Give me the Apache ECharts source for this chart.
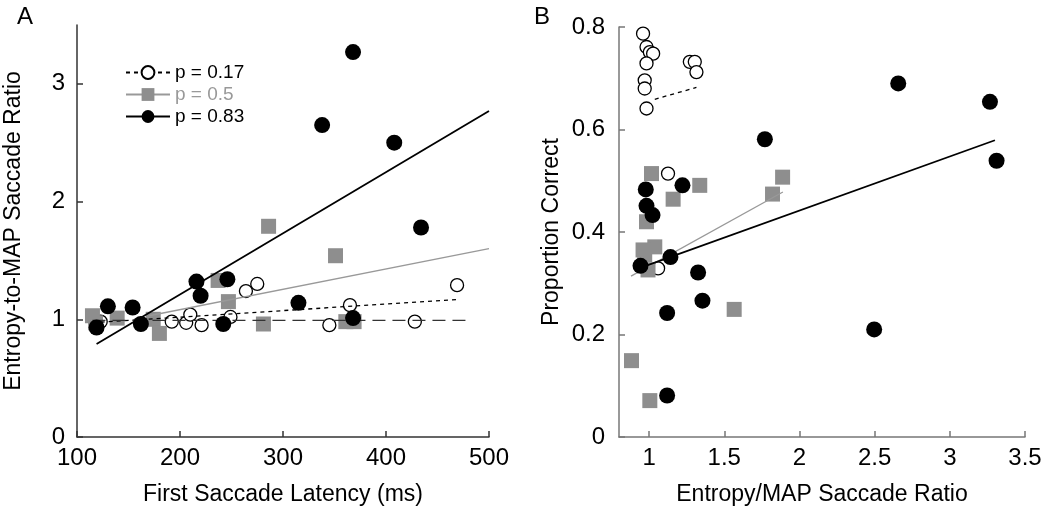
<!DOCTYPE html>
<html>
<head>
<meta charset="utf-8">
<script src="https://cdn.jsdelivr.net/npm/echarts@6/dist/echarts.min.js"></script>
<style>
html,body{margin:0;padding:0;background:#fff;}
#chart{width:1050px;height:513px;}
</style>
</head>
<body>
<div id="chart"></div>
<script>
// ---------- Panel A: First saccade latency (ms) vs Entropy-to-MAP saccade ratio ----------
const aOpen017 = [[123,0.98],[192,0.98],[206,0.97],[210,1.04],[221,0.95],[249,1.02],[264,1.24],[275,1.30],[345,0.95],[365,1.12],[428,0.98],[469,1.29]];
const aSquare05 = [[115,1.03],[118,0.97],[139,1.01],[174,1.00],[180,0.88],[237,1.33],[247,1.15],[281,0.96],[286,1.79],[351,1.54],[361,0.98],[369,0.98]];
const aFilled083 = [[119,0.93],[130,1.11],[154,1.10],[162,0.96],[216,1.32],[220,1.20],[246,1.34],[242,0.96],[315,1.14],[338,2.65],[368,3.27],[368,1.01],[408,2.50],[434,1.78]];
const aFit017 = [[123,0.975],[469,1.168]];
const aFit05 = [[170,1.03],[500,1.60]];
const aFit083 = [[119,0.79],[500,2.77]];
const aRefLine = [[115,0.99],[483,0.99]];
const aXTicks = [100,200,300,400,500];
const aYTicks = [0,1,2,3];

// ---------- Panel B: Entropy/MAP saccade ratio vs proportion correct ----------
const bOpen017 = [[0.960,0.787],[0.983,0.761],[1.005,0.751],[1.027,0.748],[0.983,0.729],[0.971,0.696],[0.971,0.680],[0.983,0.641],[1.271,0.732],[1.304,0.732],[1.315,0.712],[1.126,0.514],[1.060,0.329]];
const bSquare05 = [[0.883,0.149],[1.005,0.071],[1.016,0.514],[0.983,0.420],[1.038,0.371],[0.971,0.355],[0.993,0.326],[0.960,0.365],[1.160,0.464],[1.337,0.491],[1.566,0.249],[1.821,0.474],[1.888,0.507]];
const bFilled083 = [[0.943,0.334],[0.978,0.483],[0.983,0.451],[1.023,0.433],[1.142,0.351],[1.222,0.491],[1.120,0.242],[1.120,0.081],[1.326,0.321],[1.355,0.266],[1.770,0.581],[2.497,0.210],[2.657,0.690],[3.267,0.654],[3.311,0.539]];
const bFit017 = [[1.038,0.659],[1.315,0.682]];
const bFit05 = [[0.88,0.314],[1.89,0.478]];
const bFit083 = [[0.95,0.331],[3.30,0.579]];
const bXTicks = [1,1.5,2,2.5,3,3.5];
const bYTicks = [0,0.2,0.4,0.6,0.8];

const legendNames = ['p = 0.17','p = 0.5','p = 0.83'];

const FONT = "'Liberation Sans', Arial, Helvetica, sans-serif";
const GRAY = '#8e8e8e';

function axisBase(color){
  return {
    axisLine:{show:true,onZero:false,lineStyle:{color:color,width:1.5}},
    axisTick:{show:true,inside:true,length:6,lineStyle:{color:color,width:1.5}},
    splitLine:{show:false},
    axisLabel:{color:'#000',fontSize:24,fontFamily:FONT},
    nameTextStyle:{color:'#000',fontSize:23,fontFamily:FONT},
    nameLocation:'middle'
  };
}

const chart = echarts.init(document.getElementById('chart'), null, {renderer:'canvas'});

const openStyle = {color:'#fff',borderColor:'#000',borderWidth:1.3,opacity:1};
const squareStyle = {color:GRAY,opacity:1};
const filledStyle = {color:'#000',opacity:1};

const option = {
  animation:false,
  backgroundColor:'#fff',
  textStyle:{fontFamily:FONT},
  title:[
    {text:'A',left:12,top:0,textStyle:{fontSize:24,fontWeight:'normal',color:'#000',fontFamily:FONT}},
    {text:'B',left:529,top:0,textStyle:{fontSize:24,fontWeight:'normal',color:'#000',fontFamily:FONT}}
  ],
  legend:{
    orient:'vertical',left:120,top:58,
    itemWidth:44,itemHeight:16,itemGap:3,
    textStyle:{fontSize:19,fontFamily:FONT,color:'#000'},
    selectedMode:false,
    data:[
      {name:legendNames[0],textStyle:{color:'#000'}},
      {name:legendNames[1],textStyle:{color:'#999'}},
      {name:legendNames[2],textStyle:{color:'#000'}}
    ]
  },
  grid:[
    {left:77,right:561,top:25,bottom:76},
    {left:619,right:25,top:27,bottom:76}
  ],
  xAxis:[
    Object.assign(axisBase('#333'),{
      gridIndex:0,type:'value',min:100,max:500,interval:100,
      name:'First Saccade Latency (ms)',nameGap:46,
      axisLabel:{color:'#000',fontSize:24,fontFamily:FONT,margin:9,customValues:aXTicks},
      axisTick:{show:true,inside:true,length:6,lineStyle:{color:'#333',width:1.5},customValues:aXTicks}
    }),
    Object.assign(axisBase('#777'),{
      gridIndex:1,type:'value',min:0.8,max:3.5,
      name:'Entropy/MAP Saccade Ratio',nameGap:46,
      axisLabel:{color:'#000',fontSize:24,fontFamily:FONT,margin:9,customValues:bXTicks},
      axisTick:{show:true,inside:true,length:6,lineStyle:{color:'#777',width:1.5},customValues:bXTicks}
    })
  ],
  yAxis:[
    Object.assign(axisBase('#333'),{
      gridIndex:0,type:'value',min:0,max:3.5,
      name:'Entropy-to-MAP Saccade Ratio',nameGap:52,
      axisLabel:{color:'#000',fontSize:24,fontFamily:FONT,margin:12,customValues:aYTicks},
      axisTick:{show:true,inside:true,length:6,lineStyle:{color:'#333',width:1.5},customValues:aYTicks}
    }),
    Object.assign(axisBase('#777'),{
      gridIndex:1,type:'value',min:0,max:0.8,
      name:'Proportion Correct',nameGap:56,
      axisLabel:{color:'#000',fontSize:24,fontFamily:FONT,margin:14,customValues:bYTicks},
      axisTick:{show:true,inside:true,length:6,lineStyle:{color:'#777',width:1.5},customValues:bYTicks}
    })
  ],
  series:[
    // legend-bearing fit lines, panel A
    {name:legendNames[0],type:'line',xAxisIndex:0,yAxisIndex:0,data:aFit017,showSymbol:false,symbol:'circle',symbolSize:13,
      itemStyle:openStyle,lineStyle:{color:'#000',width:1.3,type:[4,4]},z:3},
    {name:legendNames[1],type:'line',xAxisIndex:0,yAxisIndex:0,data:aFit05,showSymbol:false,symbol:'rect',symbolSize:15,
      itemStyle:squareStyle,lineStyle:{color:'#999',width:1.3},z:3},
    {name:legendNames[2],type:'line',xAxisIndex:0,yAxisIndex:0,data:aFit083,showSymbol:false,symbol:'circle',symbolSize:15,
      itemStyle:filledStyle,lineStyle:{color:'#000',width:1.8},z:3},
    {name:'ref',type:'line',xAxisIndex:0,yAxisIndex:0,data:aRefLine,showSymbol:false,symbol:'none',
      lineStyle:{color:'#333',width:1.3,type:[13,7]},z:3},
    // panel A points
    {name:'A open',type:'scatter',xAxisIndex:0,yAxisIndex:0,data:aOpen017,symbol:'circle',symbolSize:13,itemStyle:openStyle,z:2},
    {name:'A square',type:'scatter',xAxisIndex:0,yAxisIndex:0,data:aSquare05,symbol:'rect',symbolSize:15,itemStyle:squareStyle,z:2},
    {name:'A filled',type:'scatter',xAxisIndex:0,yAxisIndex:0,data:aFilled083,symbol:'circle',symbolSize:16,itemStyle:filledStyle,z:4},
    // panel B points
    {name:'B open',type:'scatter',xAxisIndex:1,yAxisIndex:1,data:bOpen017,symbol:'circle',symbolSize:13,itemStyle:openStyle,z:2},
    {name:'B square',type:'scatter',xAxisIndex:1,yAxisIndex:1,data:bSquare05,symbol:'rect',symbolSize:15,itemStyle:squareStyle,z:2},
    {name:'B filled',type:'scatter',xAxisIndex:1,yAxisIndex:1,data:bFilled083,symbol:'circle',symbolSize:16,itemStyle:filledStyle,z:4},
    // panel B fit lines
    {name:'B fit 0.17',type:'line',xAxisIndex:1,yAxisIndex:1,data:bFit017,showSymbol:false,symbol:'none',
      lineStyle:{color:'#000',width:1.3,type:[4,4]},z:3},
    {name:'B fit 0.5',type:'line',xAxisIndex:1,yAxisIndex:1,data:bFit05,showSymbol:false,symbol:'none',
      lineStyle:{color:'#999',width:1.3},z:3},
    {name:'B fit 0.83',type:'line',xAxisIndex:1,yAxisIndex:1,data:bFit083,showSymbol:false,symbol:'none',
      lineStyle:{color:'#000',width:1.8},z:3}
  ]
};
chart.setOption(option);
</script>
</body>
</html>
